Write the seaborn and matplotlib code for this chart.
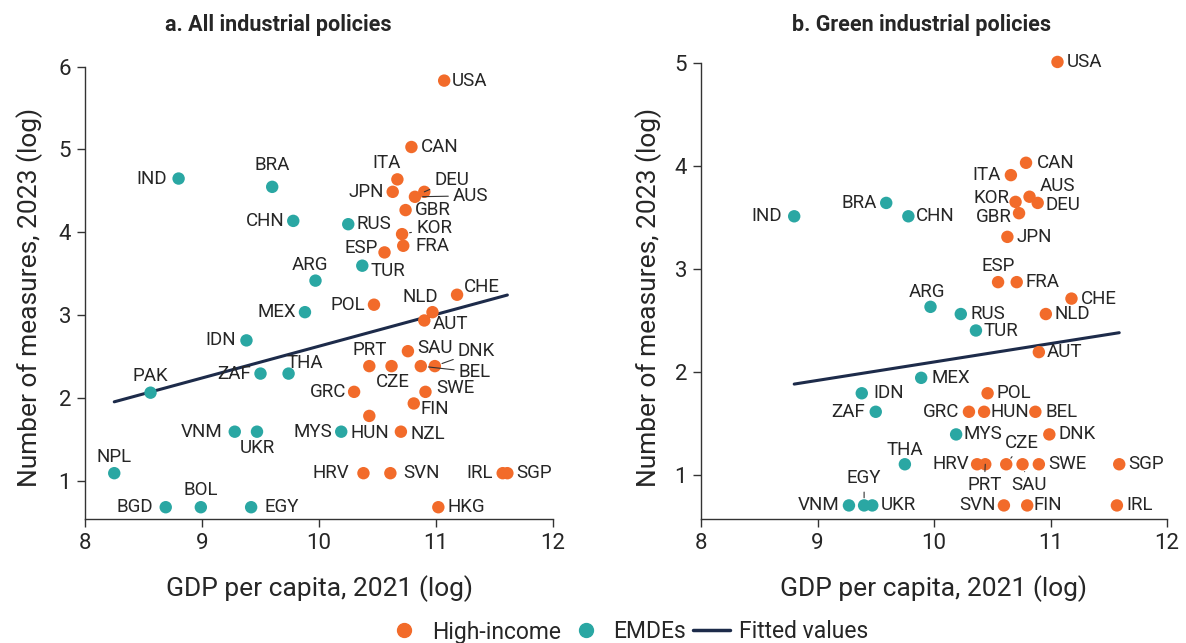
import pandas as pd
import numpy as np
import matplotlib
matplotlib.use('Agg')
import matplotlib.pyplot as plt
from matplotlib.lines import Line2D
import seaborn as sns

sns.set_style("white")
plt.rcParams['font.family'] = ['Roboto', 'DejaVu Sans']

ORANGE = '#F26B2A'
TEAL = '#2AA7A3'
NAVY = '#1D2B4A'
TXT = '#262626'

#### PANEL A: all industrial policies ####
iso_a = ['USA', 'CAN', 'ITA', 'JPN', 'DEU', 'AUS', 'GBR', 'KOR', 'FRA', 'ESP', 'CHE', 'POL', 'NLD', 'AUT',
         'SAU', 'PRT', 'CZE', 'BEL', 'DNK', 'GRC', 'SWE', 'FIN', 'HUN', 'NZL', 'HRV', 'SVN', 'IRL', 'SGP', 'HKG',
         'IND', 'BRA', 'CHN', 'RUS', 'TUR', 'ARG', 'MEX', 'IDN', 'THA', 'ZAF', 'PAK', 'MYS', 'VNM', 'UKR',
         'NPL', 'BGD', 'BOL', 'EGY']
gdp_a = [11.07, 10.79, 10.67, 10.63, 10.90, 10.82, 10.74, 10.71, 10.72, 10.56, 11.18, 10.47, 10.97, 10.90,
         10.76, 10.43, 10.62, 10.87, 10.99, 10.30, 10.91, 10.81, 10.43, 10.70, 10.38, 10.61, 11.57, 11.61, 11.02,
         8.80, 9.60, 9.78, 10.25, 10.37, 9.97, 9.88, 9.38, 9.74, 9.50, 8.56, 10.19, 9.28, 9.47,
         8.25, 8.69, 8.99, 9.42]
meas_a = [5.83, 5.03, 4.64, 4.49, 4.49, 4.43, 4.27, 3.98, 3.84, 3.76, 3.25, 3.13, 3.04, 2.94,
          2.57, 2.39, 2.39, 2.39, 2.39, 2.08, 2.08, 1.94, 1.79, 1.60, 1.10, 1.10, 1.10, 1.10, 0.69,
          4.65, 4.55, 4.14, 4.10, 3.60, 3.42, 3.04, 2.70, 2.30, 2.30, 2.07, 1.60, 1.60, 1.60,
          1.10, 0.69, 0.69, 0.69]
group_a = ['High-income'] * 29 + ['EMDEs'] * 18
fit_a = (0.383, -1.20)   # slope, intercept

#### PANEL B: green industrial policies ####
iso_b = ['USA', 'CAN', 'ITA', 'AUS', 'DEU', 'KOR', 'GBR', 'JPN', 'ESP', 'FRA', 'CHE', 'NLD', 'AUT', 'POL',
         'GRC', 'HUN', 'BEL', 'DNK', 'HRV', 'PRT', 'CZE', 'SAU', 'SWE', 'SGP', 'SVN', 'FIN', 'IRL',
         'IND', 'BRA', 'CHN', 'ARG', 'RUS', 'TUR', 'MEX', 'MYS', 'IDN', 'ZAF', 'THA', 'VNM', 'EGY', 'UKR']
gdp_b = [11.06, 10.79, 10.66, 10.82, 10.89, 10.70, 10.73, 10.63, 10.55, 10.71, 11.18, 10.96, 10.90, 10.46,
         10.30, 10.43, 10.87, 10.99, 10.37, 10.44, 10.62, 10.76, 10.90, 11.59, 10.60, 10.80, 11.57,
         8.80, 9.59, 9.78, 9.97, 10.23, 10.36, 9.89, 10.19, 9.38, 9.50, 9.75, 9.27, 9.40, 9.47]
meas_b = [5.01, 4.03, 3.91, 3.70, 3.64, 3.65, 3.54, 3.31, 2.87, 2.87, 2.71, 2.56, 2.19, 1.79,
          1.61, 1.61, 1.61, 1.39, 1.10, 1.10, 1.10, 1.10, 1.10, 1.10, 0.70, 0.70, 0.70,
          3.51, 3.64, 3.51, 2.63, 2.56, 2.40, 1.94, 1.39, 1.79, 1.61, 1.10, 0.70, 0.70, 0.70]
group_b = ['High-income'] * 27 + ['EMDEs'] * 14
fit_b = (0.179, 0.304)

# label placement: (dx px, dy px, ha, leader line)
lab_a = {'USA': (8, 0, 'left'), 'CAN': (9, 0, 'left'), 'ITA': (-11, 16, 'center'), 'JPN': (-9, 0, 'right'),
         'DEU': (10, 12, 'left', True), 'AUS': (38, 1, 'left', True), 'GBR': (9, 0, 'left'),
         'KOR': (14, 6, 'left', True), 'FRA': (12, 0, 'left'), 'ESP': (-7, 4, 'right'), 'CHE': (7, 8, 'left'),
         'POL': (-9, 0, 'right'), 'NLD': (-12, 15, 'center'), 'AUT': (8, -4, 'left'), 'SAU': (9, 3, 'left'),
         'PRT': (0, 16, 'center'), 'CZE': (1, -16, 'center'), 'BEL': (38, -6, 'left', True),
         'DNK': (23, 15, 'left', True), 'GRC': (-8, 0, 'right'), 'SWE': (11, 4, 'left'), 'FIN': (7, -6, 'left'),
         'HUN': (1, -17, 'center'), 'NZL': (10, -2, 'left'), 'HRV': (-14, 0, 'right'), 'SVN': (13, 0, 'left'),
         'IRL': (-10, 0, 'right'), 'SGP': (9, 0, 'left'), 'HKG': (9, 0, 'left'), 'IND': (-12, 0, 'right'),
         'BRA': (0, 22, 'center'), 'CHN': (-9, 0, 'right'), 'RUS': (8, 0, 'left'), 'TUR': (8, -5, 'left'),
         'ARG': (-6, 16, 'center'), 'MEX': (-9, 0, 'right'), 'IDN': (-10, 0, 'right'), 'THA': (16, 11, 'center'),
         'ZAF': (-10, 0, 'right'), 'PAK': (0, 17, 'center'), 'MYS': (-9, 0, 'right'), 'VNM': (-12, 0, 'right'),
         'UKR': (0, -16, 'center'), 'NPL': (0, 16, 'center'), 'BGD': (-13, 0, 'right'),
         'BOL': (0, 17, 'center'), 'EGY': (13, 0, 'left')}
lab_b = {'USA': (9, 0, 'left'), 'CAN': (11, 0, 'left'), 'ITA': (-10, 0, 'right'), 'AUS': (10, 11, 'left'),
         'DEU': (8, -2, 'left'), 'KOR': (-6, 4, 'right'), 'GBR': (-7, -4, 'right'), 'JPN': (9, 0, 'left'),
         'ESP': (0, 16, 'center'), 'FRA': (9, 0, 'left'), 'CHE': (9, 0, 'left'), 'NLD': (9, 0, 'left'),
         'AUT': (8, 0, 'left'), 'POL': (9, 0, 'left'), 'GRC': (-10, 0, 'right'), 'HUN': (6, 0, 'left'),
         'BEL': (10, 0, 'left'), 'DNK': (9, 0, 'left'), 'HRV': (-8, 0, 'right'),
         'PRT': (-1, -21, 'center', True), 'CZE': (16, 21, 'center', True), 'SAU': (6, -21, 'center', True),
         'SWE': (9, 0, 'left'), 'SGP': (9, 0, 'left'), 'SVN': (-8, 0, 'right'), 'FIN': (6, 0, 'left'),
         'IRL': (9, 0, 'left'), 'IND': (-12, 0, 'right'), 'BRA': (-9, 0, 'right'), 'CHN': (8, 0, 'left'),
         'ARG': (-4, 15, 'center'), 'RUS': (10, 0, 'left'), 'TUR': (8, -1, 'left'), 'MEX': (10, 0, 'left'),
         'MYS': (7, 0, 'left'), 'IDN': (12, 0, 'left'), 'ZAF': (-11, 0, 'right'), 'THA': (0, 14, 'center'),
         'VNM': (-9, 0, 'right'), 'EGY': (0, 27, 'center', True), 'UKR': (8, 0, 'left')}


def panel(ax, iso, gdp, meas, group, fit, labels, ylim, ytop, title, title_x):
    df = pd.DataFrame({'iso': iso, 'gdp': gdp, 'meas': meas, 'group': group})
    sns.scatterplot(data=df, x='gdp', y='meas', hue='group', hue_order=['High-income', 'EMDEs'],
                    palette=[ORANGE, TEAL], s=80, edgecolor='none', ax=ax, legend=False, zorder=3)
    xs = np.array([df['gdp'].min(), df['gdp'].max()])
    ax.plot(xs, fit[0] * xs + fit[1], color=NAVY, lw=2.2, zorder=2)
    for _, r in df.iterrows():
        spec = labels[r['iso']]
        arrow = None
        if len(spec) > 3:
            arrow = dict(arrowstyle='-', color='#333333', lw=0.8, shrinkA=1, shrinkB=5.5)
        ax.annotate(r['iso'], (r['gdp'], r['meas']), xytext=(spec[0], spec[1]), textcoords='offset pixels',
                    ha=spec[2], va='center', fontsize=13.5, color=TXT, arrowprops=arrow, zorder=4)
    ax.set_xlim(8, 12)
    ax.set_ylim(*ylim)
    ax.set_xticks([8, 9, 10, 11, 12])
    ax.set_yticks(range(1, ytop + 1))
    ax.spines['top'].set_visible(False)
    ax.spines['right'].set_visible(False)
    ax.spines['left'].set_bounds(ylim[0], ytop)
    for s in ['left', 'bottom']:
        ax.spines[s].set_color('#333333')
        ax.spines[s].set_linewidth(1.0)
    ax.tick_params(axis='both', which='major', length=6, width=1, color='#333333', labelsize=16,
                   labelcolor=TXT, left=True, bottom=True, pad=4)
    ax.set_xlabel('GDP per capita, 2021 (log)', fontsize=19, color=TXT)
    ax.set_ylabel('Number of measures, 2023 (log)', fontsize=19, color=TXT)
    ax.xaxis.set_label_coords(0.5, -0.118)
    ax.text(title_x, (643 - 25 - (643 - 519)) / 473, title, transform=ax.transAxes, ha='center',
            va='center', fontsize=15.5, fontweight='bold', color=TXT)


fig = plt.figure(figsize=(11.86, 6.43), dpi=100)
ax1 = fig.add_axes([85 / 1186, 1 - 519 / 643, 468 / 1186, 473 / 643])
ax2 = fig.add_axes([701 / 1186, 1 - 519 / 643, 466 / 1186, 473 / 643])

panel(ax1, iso_a, gdp_a, meas_a, group_a, fit_a, lab_a, (0.548, 6.247), 6,
      'a. All industrial policies', 0.412)
panel(ax2, iso_b, gdp_b, meas_b, group_b, fit_b, lab_b, (0.568, 5.165), 5,
      'b. Green industrial policies', 0.474)
ax1.yaxis.set_label_coords(-0.09, 0.469)
ax2.yaxis.set_label_coords(-0.084, 0.469)

handles = [Line2D([0], [0], lw=0, marker='o', markersize=10, color=ORANGE, label='High-income'),
           Line2D([0], [0], lw=0, marker='o', markersize=10, color=TEAL, label='EMDEs'),
           Line2D([0], [0], lw=2.5, color=NAVY, label='Fitted values')]
fig.legend(handles=handles, loc='center', bbox_to_anchor=(627 / 1186, 1 - 632 / 643), ncol=3, frameon=False,
           fontsize=16.5, handlelength=1.6, handletextpad=0.4, columnspacing=0.3, labelcolor=TXT)

plt.savefig('out.png', dpi=100)
plt.close('all')
